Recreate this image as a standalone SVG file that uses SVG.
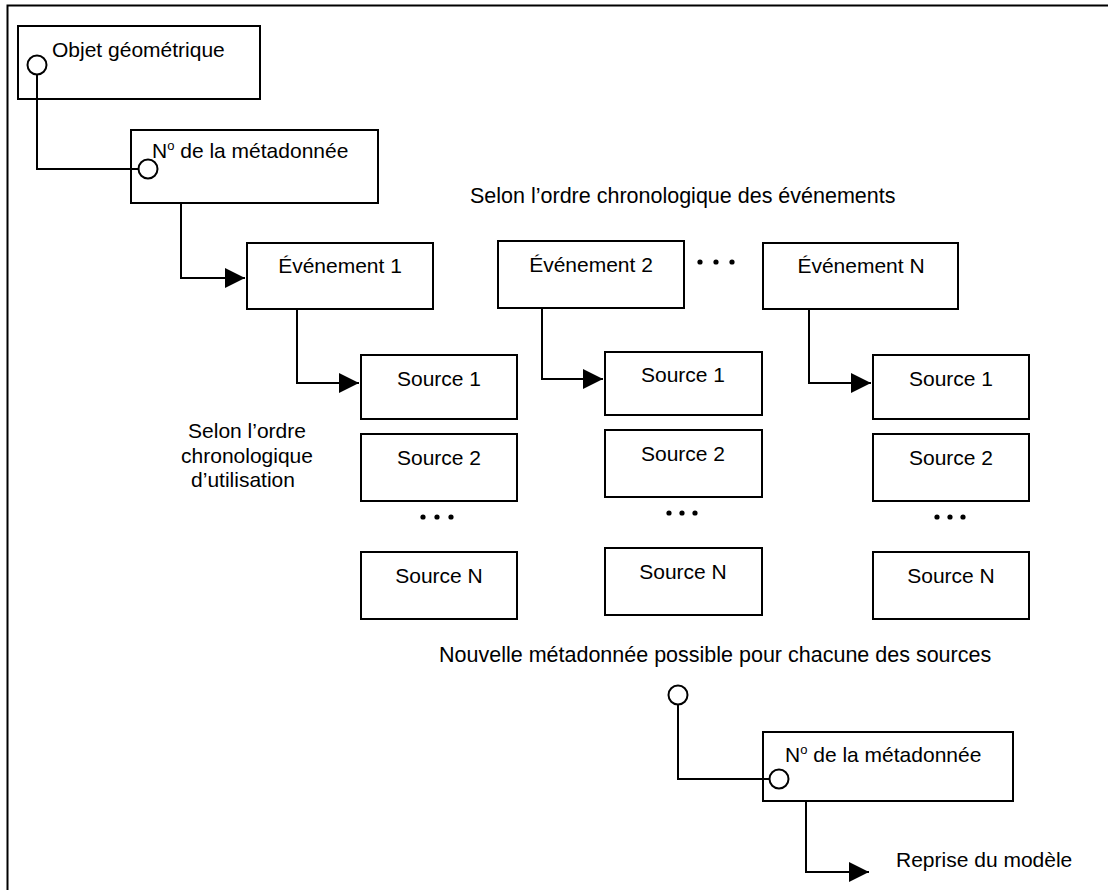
<svg xmlns="http://www.w3.org/2000/svg" width="1108" height="890" viewBox="0 0 1108 890">
  <style>
    .box { fill: #fff; stroke: #000; stroke-width: 2; }
    .wire { fill: none; stroke: #000; stroke-width: 2; }
    .port { fill: #fff; stroke: #000; stroke-width: 2; }
    .t { font-family: "Liberation Sans", Arial, sans-serif; font-size: 21px; fill: #000; }
    .wide { font-size: 21.5px; }
    .c { text-anchor: middle; }
    .sup { font-size: 13px; }
  </style>
  <defs>
    <marker id="arrow" markerUnits="userSpaceOnUse" markerWidth="22" markerHeight="22" refX="20" refY="10" orient="auto">
      <path d="M0,0 L20,10 L0,20 Z" fill="#000"/>
    </marker>
  </defs>

  <rect width="1108" height="890" fill="#fff"/>

  <!-- page frame (top and left edges) -->
  <path class="wire" d="M7.5,890 V5.5 H1108"/>

  <!-- captions -->
  <text class="t wide" x="470" y="203">Selon l’ordre chronologique des événements</text>
  <text class="t c" x="247" y="438">Selon l’ordre</text>
  <text class="t c" x="247" y="463">chronologique</text>
  <text class="t c" x="243" y="487">d’utilisation</text>
  <text class="t wide" x="439" y="662">Nouvelle métadonnée possible pour chacune des sources</text>
  <text class="t" x="896" y="867">Reprise du modèle</text>

  <!-- ellipses -->
  <g id="dots">
    <circle cx="700" cy="262" r="2.6"/><circle cx="716" cy="262" r="2.6"/><circle cx="732" cy="262" r="2.6"/>
    <circle cx="423" cy="517" r="2.6"/><circle cx="437" cy="517" r="2.6"/><circle cx="451" cy="517" r="2.6"/>
    <circle cx="669" cy="513" r="2.6"/><circle cx="682" cy="513" r="2.6"/><circle cx="695" cy="513" r="2.6"/>
    <circle cx="937" cy="517" r="2.6"/><circle cx="950" cy="517" r="2.6"/><circle cx="963" cy="517" r="2.6"/>
  </g>

  <!-- nodes -->
  <g id="objet">
    <rect class="box" x="18" y="26" width="242" height="73"/>
    <text class="t" x="52" y="57">Objet géométrique</text>
  </g>
  <g id="meta1">
    <rect class="box" x="131" y="130" width="247" height="73"/>
    <text class="t" x="152" y="158">N<tspan class="sup" dy="-8">o</tspan><tspan dy="8"> de la métadonnée</tspan></text>
  </g>
  <g id="evt1">
    <rect class="box" x="247" y="243" width="186" height="66"/>
    <text class="t c" x="340" y="273">Événement 1</text>
  </g>
  <g id="evt2">
    <rect class="box" x="498" y="241" width="186" height="67"/>
    <text class="t c" x="591" y="272">Événement 2</text>
  </g>
  <g id="evtN">
    <rect class="box" x="763" y="243" width="195" height="66"/>
    <text class="t c" x="861" y="273">Événement N</text>
  </g>

  <g id="src1-1"><rect class="box" x="361" y="355" width="156" height="64"/><text class="t c" x="439" y="386">Source 1</text></g>
  <g id="src1-2"><rect class="box" x="361" y="434" width="156" height="67"/><text class="t c" x="439" y="465">Source 2</text></g>
  <g id="src1-N"><rect class="box" x="361" y="552" width="156" height="67"/><text class="t c" x="439" y="583">Source N</text></g>

  <g id="src2-1"><rect class="box" x="605" y="352" width="157" height="63"/><text class="t c" x="683" y="382">Source 1</text></g>
  <g id="src2-2"><rect class="box" x="605" y="430" width="157" height="67"/><text class="t c" x="683" y="461">Source 2</text></g>
  <g id="src2-N"><rect class="box" x="605" y="548" width="157" height="67"/><text class="t c" x="683" y="579">Source N</text></g>

  <g id="src3-1"><rect class="box" x="873" y="355" width="156" height="64"/><text class="t c" x="951" y="386">Source 1</text></g>
  <g id="src3-2"><rect class="box" x="873" y="434" width="156" height="67"/><text class="t c" x="951" y="465">Source 2</text></g>
  <g id="src3-N"><rect class="box" x="873" y="552" width="156" height="67"/><text class="t c" x="951" y="583">Source N</text></g>

  <g id="meta2">
    <rect class="box" x="763" y="732" width="250" height="69"/>
    <text class="t" x="785" y="762">N<tspan class="sup" dy="-8">o</tspan><tspan dy="8"> de la métadonnée</tspan></text>
  </g>

  <!-- connectors -->
  <g id="connectors">
    <path class="wire" d="M37,75 V169 H139"/>
    <path class="wire" d="M181,203 V278 H245" marker-end="url(#arrow)"/>
    <path class="wire" d="M297,309 V383 H359" marker-end="url(#arrow)"/>
    <path class="wire" d="M542,308 V379 H603" marker-end="url(#arrow)"/>
    <path class="wire" d="M809,309 V383 H871" marker-end="url(#arrow)"/>
    <path class="wire" d="M678,705 V779 H769"/>
    <path class="wire" d="M806,801 V872 H869" marker-end="url(#arrow)"/>
    <circle class="port" cx="37" cy="65" r="9.5"/>
    <circle class="port" cx="148" cy="169" r="9.5"/>
    <circle class="port" cx="678" cy="695" r="9.5"/>
    <circle class="port" cx="779" cy="779" r="9.5"/>
  </g>
</svg>
